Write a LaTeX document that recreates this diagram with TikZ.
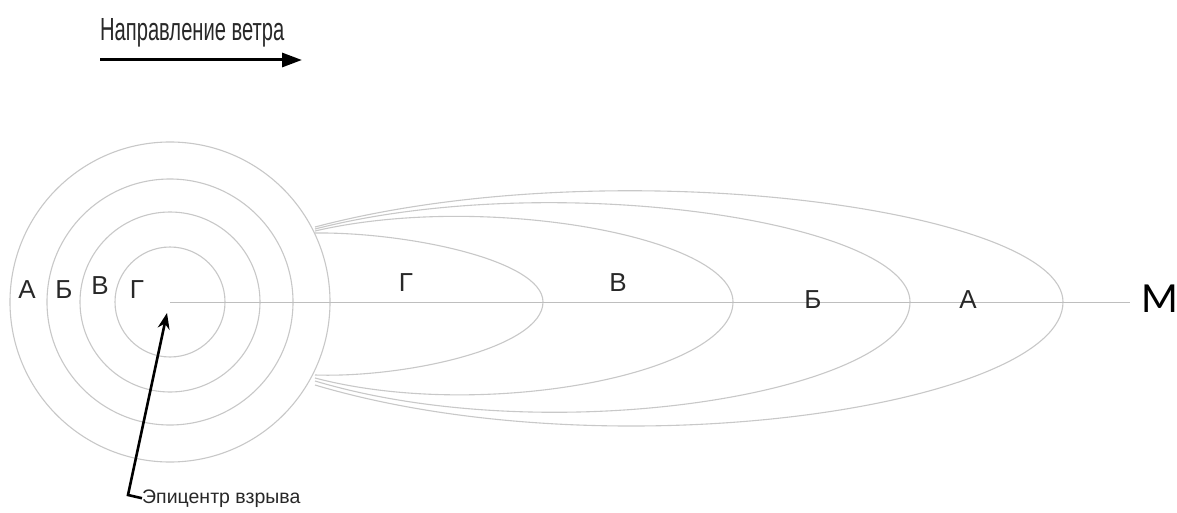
\documentclass[tikz,border=0pt]{standalone}
\usepackage{fontspec}
\setmainfont{Liberation Sans}
\newfontfamily\mfont{Carlito}
\usetikzlibrary{arrows.meta}
\definecolor{zonegray}{RGB}{200,200,200}
\definecolor{axisgray}{RGB}{190,190,190}
\definecolor{txtgray}{RGB}{40,40,40}
\newcommand\plume[6]{% xt, s top, Ht, s bottom, Hb, name
  \draw[zone] (315,{302-#2}) .. controls ({315+0.4*(#1-315)},{302-#3}) and (#1,{302-0.6*#3}) .. (#1,302)
    .. controls (#1,{302+0.6*#5}) and ({315+0.4*(#1-315)},{302+#5}) .. (315,{302+#4});
  \coordinate (#6) at (#1,302);}
\begin{document}
\begin{tikzpicture}[x=1pt,y=-1pt,
  zone/.style={draw=zonegray,line width=1.1pt},
  axis/.style={draw=axisgray,line width=1pt},
  lab/.style={font=\fontsize{26}{26}\selectfont,text=txtgray,inner sep=0pt,anchor=base},
  pointer/.style={line width=2.6pt,-{Stealth[length=16pt,width=12pt]}}]
\useasboundingbox (0,0) rectangle (1177,513);
\fill[white] (0,0) rectangle (1177,513);
\coordinate (ctr) at (170,302);
% circles
\foreach \r in {55,90,123,160} \draw[zone] (ctr) circle[radius=\r pt];
% plumes
\plume{543}{69}{70}{73}{76}{tG}
\plume{733}{71}{110}{76}{120}{tV}
\plume{910}{73}{134}{79}{150}{tB}
\plume{1063}{75}{154}{83}{172}{tA}
% axis
\coordinate (axend) at (1130,302);
\draw[axis] (ctr) -- (axend);
\node[inner sep=0pt,anchor=west,font=\mfont\fontsize{43}{43}\selectfont] (M) at (1141,299) {М};
% left labels
\node[lab] (lA) at (27,298) {А};
\node[lab] (lB) at (64,298) {Б};
\node[lab] (lV) at (100,294) {В};
\node[lab] (lG) at (137,298) {Г};
% plume labels
\node[lab] (pG) at (406,291) {Г};
\node[lab] (pV) at (618,291) {В};
\node[lab] (pB) at (813,308) {Б};
\node[lab] (pA) at (968,308) {А};
% wind
\node[inner sep=0pt,anchor=base west,text=txtgray,font=\fontsize{32}{32}\selectfont,xscale=0.63] (wind) at (100,41) {Направление ветра};
\coordinate (w1) at (100,60);
\coordinate (w2) at (302,60);
\draw[line width=3pt,-{Triangle[length=20pt,width=14pt]}] (w1) -- (w2);
% epicentre
\node[inner sep=0pt,anchor=base west,text=txtgray,font=\fontsize{19.5}{19.5}\selectfont] (epi) at (142,503) {Эпицентр взрыва};
\coordinate (bend) at (128,495);
\coordinate (tip) at (167,313);
\draw[pointer] (epi.west) -- (bend) -- (tip);
\end{tikzpicture}
\end{document}
